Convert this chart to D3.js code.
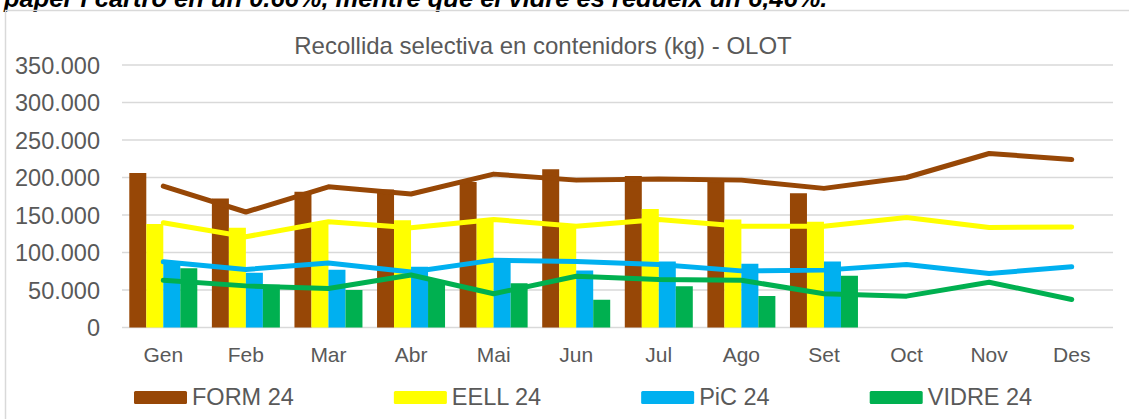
<!DOCTYPE html>
<html>
<head>
<meta charset="utf-8">
<script src="https://cdn.jsdelivr.net/npm/d3@7"></script>
<style>
html,body{margin:0;padding:0;background:#fff;overflow:hidden;}
svg{display:block;}
text{font-family:"Liberation Sans",Arial,sans-serif;}
</style>
</head>
<body>
<svg id="chart" width="1129" height="419"></svg>
<script>
const months = ["Gen","Feb","Mar","Abr","Mai","Jun","Jul","Ago","Set","Oct","Nov","Des"];
const yTicks = [0,50000,100000,150000,200000,250000,300000,350000];
const seriesNames = ["FORM 24","EELL 24","PiC 24","VIDRE 24"];
const seriesColors = ["#974706","#FFFF00","#00B0F0","#00B050"];
// 2024 bars (Gen–Set)
const form24  = [206000,172000,181000,184000,194000,211000,202000,195000,179000];
const eell24  = [138000,133000,140000,143000,144000,136000,158000,144000,141000];
const pic24   = [ 88000, 73000, 77000, 81000, 88000, 76000, 88000, 85000, 88000];
const vidre24 = [ 79000, 57000, 50000, 62000, 59000, 37000, 55000, 42000, 69000];
// reference lines (full year)
const formLine  = [188500,154000,187600,178000,204500,196500,198000,196500,185500,200000,232000,224000];
const eellLine  = [139600,121000,141000,133000,144000,135000,144000,135000,135000,146800,133400,134000];
const picLine   = [ 87600, 77400, 86000, 74000, 89800, 88000, 84000, 75500, 76500, 84000, 72000, 80900];
const vidreLine = [ 63000, 55500, 52000, 70000, 45000, 68400, 64000, 63000, 45000, 41800, 60400, 37400];
const titleText = "Recollida selectiva en contenidors (kg) - OLOT";
const topText = "paper i cartró en un 0.66%, mentre que el vidre es redueix un 6,46%.";

const barSeries = [form24, eell24, pic24, vidre24];
const lineSeries = [formLine, eellLine, picLine, vidreLine];

const svg = d3.select("#chart");
const grey = "#595959";

// text line above the chart (partly cut off at the top, as in the source)
svg.append("text").attr("x",4).attr("y",7)
  .attr("font-size",25.5).attr("font-weight","bold").attr("font-style","italic")
  .attr("fill","#000").text(topText);

// chart frame
svg.append("path").attr("d","M5.5,430 V10.5 H1140")
  .attr("fill","none").attr("stroke","#d9d9d9").attr("stroke-width",1.5);

const x = d3.scaleBand().domain(months).range([122,1113]).padding(0);
const y = d3.scaleLinear().domain([0,350000]).range([327.5,65]);
const groupW = 68;
const x1 = d3.scaleBand().domain(d3.range(4)).range([-groupW/2, groupW/2]).padding(0);

// gridlines
svg.append("g").selectAll("line").data(yTicks).join("line")
  .attr("x1",x.range()[0]).attr("x2",x.range()[1])
  .attr("y1",d=>y(d)).attr("y2",d=>y(d))
  .attr("stroke","#d9d9d9").attr("stroke-width",1.5);

// y axis labels
const fmt = d => d===0 ? "0" : d3.format(",")(d).replace(/,/g,".");
const yAxis = d3.axisLeft(y).tickValues(yTicks).tickFormat(fmt).tickSize(0).tickPadding(0);
const gy = svg.append("g").attr("transform","translate(100,0)").call(yAxis);
gy.select(".domain").remove();
gy.selectAll("text").attr("font-size",23.5).attr("fill",grey)
  .attr("font-family","'Liberation Sans',Arial,sans-serif").attr("dy","0.36em");

// x axis labels
const xAxis = d3.axisBottom(x).tickSize(0).tickPadding(0);
const gx = svg.append("g").attr("transform","translate(0,346)").call(xAxis);
gx.select(".domain").remove();
gx.selectAll("text").attr("font-size",21).attr("fill",grey)
  .attr("font-family","'Liberation Sans',Arial,sans-serif").attr("dy","0.74em");

// bars
barSeries.forEach((vals,si)=>{
  svg.append("g").selectAll("rect").data(vals).join("rect")
    .attr("x",(d,i)=>x(months[i]) + x.bandwidth()/2 + x1(si))
    .attr("width",x1.bandwidth())
    .attr("y",d=>y(d))
    .attr("height",d=>y(0)-y(d))
    .attr("fill",seriesColors[si]);
});

// lines
const line = d3.line().x((d,i)=>x(months[i])+x.bandwidth()/2).y(d=>y(d));
lineSeries.forEach((vals,si)=>{
  svg.append("path").datum(vals).attr("d",line)
    .attr("fill","none").attr("stroke",seriesColors[si])
    .attr("stroke-width",5).attr("stroke-linejoin","round").attr("stroke-linecap","round");
});

// title
svg.append("text").attr("x",543).attr("y",53.5).attr("text-anchor","middle")
  .attr("font-size",24).attr("fill",grey).text(titleText);

// legend
let lx = 134;
seriesNames.forEach((name,si)=>{
  svg.append("rect").attr("x",lx).attr("y",391).attr("width",53).attr("height",13)
    .attr("rx",1.5).attr("fill",seriesColors[si]);
  const t = svg.append("text").attr("x",lx+58).attr("y",405.3)
    .attr("font-size",23.5).attr("fill",grey).text(name);
  lx = lx + 58 + t.node().getComputedTextLength() + 100;
});
</script>
</body>
</html>
